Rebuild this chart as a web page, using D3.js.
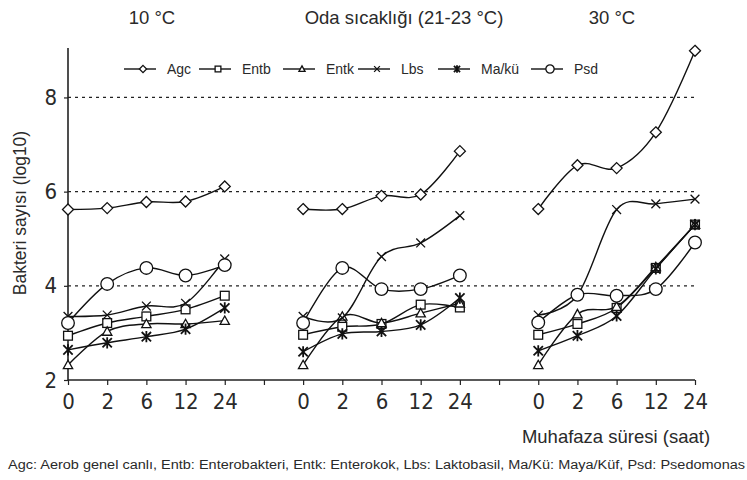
<!DOCTYPE html>
<html>
<head>
<meta charset="utf-8">
<title>Bakteri sayısı</title>
<script src="https://d3js.org/d3.v7.min.js"></script>
<style>
  body { margin: 0; background: #fff; }
  svg text { font-family: "Liberation Sans", Arial, sans-serif; fill: #2a2a2a; }
</style>
</head>
<body>
<div id="chart"></div>
<script>
// storage times (saat) and temperature panels
const hours = ["0", "2", "6", "12", "24"];
const panels = ["10 °C", "Oda sıcaklığı (21-23 °C)", "30 °C"];
const seriesNames = ["Agc", "Entb", "Entk", "Lbs", "Ma/kü", "Psd"];
const yTicks = [2, 4, 6, 8];
const gridValues = [4, 6, 8];

// log10 counts, one row per panel (10 °C, oda, 30 °C)
const agc  = [[5.62, 5.65, 5.78, 5.79, 6.11], [5.63, 5.63, 5.91, 5.94, 6.86], [5.63, 6.56, 6.50, 7.26, 8.99]];
const entb = [[2.94, 3.21, 3.35, 3.50, 3.79], [2.96, 3.13, 3.19, 3.60, 3.54], [2.96, 3.19, 3.53, 4.38, 5.30]];
const entk = [[2.32, 3.03, 3.19, 3.19, 3.26], [2.32, 3.35, 3.21, 3.42, 3.63], [2.32, 3.40, 3.56, 4.40, 5.30]];
const lbs  = [[3.35, 3.38, 3.57, 3.63, 4.57], [3.35, 3.32, 4.62, 4.91, 5.49], [3.38, 3.80, 5.62, 5.74, 5.84]];
const mak  = [[2.64, 2.79, 2.92, 3.08, 3.53], [2.60, 2.98, 3.03, 3.17, 3.74], [2.62, 2.94, 3.36, 4.36, 5.30]];
const psd  = [[3.21, 4.04, 4.38, 4.22, 4.44], [3.21, 4.38, 3.93, 3.93, 4.22], [3.22, 3.81, 3.79, 3.93, 4.92]];

const footnote = "Agc: Aerob genel canlı, Entb: Enterobakteri, Entk: Enterokok, Lbs: Laktobasil, Ma/Kü: Maya/Küf, Psd: Psedomonas";

const W = 747, H = 480;
const svg = d3.select("#chart").append("svg").attr("width", W).attr("height", H);

// one linear scale over 17 slots: 5 hours per panel + 2 empty slots between panels
const x = d3.scaleLinear().domain([0, 16]).range([68, 695]);
const y = d3.scaleLinear().domain([2, 9.05]).range([380, 48]);
const slot = (p, i) => p * 6 + i;

// dotted grid
svg.selectAll(".grid").data(gridValues).enter().append("line")
  .attr("x1", x(0)).attr("x2", x(16))
  .attr("y1", d => y(d)).attr("y2", d => y(d))
  .attr("stroke", "#222").attr("stroke-width", 1.2).attr("stroke-dasharray", "3,4");

// axes
const tickFont = "'Liberation Sans Narrow', 'DejaVu Sans Condensed', sans-serif";
const xAxis = svg.append("g").attr("transform", `translate(0,${y(2)})`)
  .call(d3.axisBottom(x).tickValues(d3.range(17)).tickSize(5).tickPadding(8)
    .tickFormat(d => d % 6 < 5 ? hours[d % 6] : ""));
xAxis.select(".domain").attr("stroke", "#222").attr("stroke-width", 1.6).attr("d", `M${x(0)},0H${x(16)}`);
xAxis.selectAll(".tick line").attr("stroke", "#222").attr("stroke-width", 1.2);
xAxis.selectAll(".tick text").style("font-size", "22px").style("font-family", tickFont).style("fill", "#2a2a2a");

const yAxis = svg.append("g").attr("transform", `translate(${x(0)},0)`)
  .call(d3.axisLeft(y).tickValues(yTicks).tickFormat(d3.format("d")).tickSize(4).tickPadding(7));
yAxis.select(".domain").attr("stroke", "#222").attr("stroke-width", 1.6).attr("d", `M0,${y(9.05)}V${y(2)}`);
yAxis.selectAll(".tick line").attr("stroke", "#222").attr("stroke-width", 1.2);
yAxis.selectAll(".tick text").style("font-size", "22px").style("font-family", tickFont).style("fill", "#2a2a2a");

// markers
function marker(g, type, s) {
  const sw = 1.3;
  if (type === "Agc") {
    g.append("path").attr("d", `M0,${-s}L${s},0L0,${s}L${-s},0Z`).attr("fill", "#fff").attr("stroke", "#111").attr("stroke-width", sw);
  } else if (type === "Entb") {
    const h = s * 0.8;
    g.append("rect").attr("x", -h).attr("y", -h).attr("width", 2 * h).attr("height", 2 * h).attr("fill", "#fff").attr("stroke", "#111").attr("stroke-width", sw);
  } else if (type === "Entk") {
    const h = s * 0.85;
    g.append("path").attr("d", `M0,${-h}L${h},${h * 0.8}L${-h},${h * 0.8}Z`).attr("fill", "#fff").attr("stroke", "#111").attr("stroke-width", sw);
  } else if (type === "Lbs") {
    const h = s * 0.8;
    g.append("path").attr("d", `M${-h},${-h}L${h},${h}M${h},${-h}L${-h},${h}`).attr("stroke", "#111").attr("stroke-width", sw);
  } else if (type === "Ma/kü") {
    const h = s * 0.85;
    g.append("path").attr("d", `M${-h},${-h}L${h},${h}M${h},${-h}L${-h},${h}M0,${-h * 1.2}V${h * 1.2}`).attr("stroke", "#111").attr("stroke-width", 1.8);
  } else {
    g.append("circle").attr("r", s * 1.15).attr("fill", "#fff").attr("stroke", "#111").attr("stroke-width", sw);
  }
}

const allSeries = [agc, entb, entk, lbs, mak, psd];
const line = d3.line().x(d => x(d.s)).y(d => y(d.v)).curve(d3.curveCardinal.tension(0));

seriesNames.forEach((name, k) => {
  panels.forEach((p, pi) => {
    const pts = allSeries[k][pi].map((v, i) => ({ s: slot(pi, i), v }));
    svg.append("path").attr("d", line(pts)).attr("fill", "none").attr("stroke", "#111").attr("stroke-width", 1.4);
    pts.forEach(d => {
      marker(svg.append("g").attr("transform", `translate(${x(d.s)},${y(d.v)})`), name, 5.5);
    });
  });
});

// legend
const legendMarkX = [143, 218, 302, 377, 457, 550];
const legendY = 69;
seriesNames.forEach((name, k) => {
  const mx = legendMarkX[k];
  svg.append("line").attr("x1", mx - 19).attr("x2", mx + 13).attr("y1", legendY).attr("y2", legendY)
    .attr("stroke", "#111").attr("stroke-width", 1.4);
  marker(svg.append("g").attr("transform", `translate(${mx},${legendY})`), name, 3.6);
  svg.append("text").attr("x", mx + 24).attr("y", legendY).attr("dy", "0.35em")
    .style("font-size", "14px").text(name);
});

// panel titles
const titleX = [152, 404, 612];
panels.forEach((p, i) => {
  svg.append("text").attr("x", titleX[i]).attr("y", 24).attr("text-anchor", "middle")
    .style("font-size", "18.5px").text(p);
});

// axis titles
svg.append("text").attr("transform", "translate(26,213) rotate(-90)").attr("text-anchor", "middle")
  .style("font-size", "17.5px").text("Bakteri sayısı (log10)");
svg.append("text").attr("x", 616).attr("y", 443).attr("text-anchor", "middle")
  .style("font-size", "18.5px").text("Muhafaza süresi (saat)");

// footnote
svg.append("text").attr("x", 8).attr("y", 469)
  .attr("textLength", 737).attr("lengthAdjust", "spacingAndGlyphs")
  .style("font-size", "12px").text(footnote);
</script>
</body>
</html>
